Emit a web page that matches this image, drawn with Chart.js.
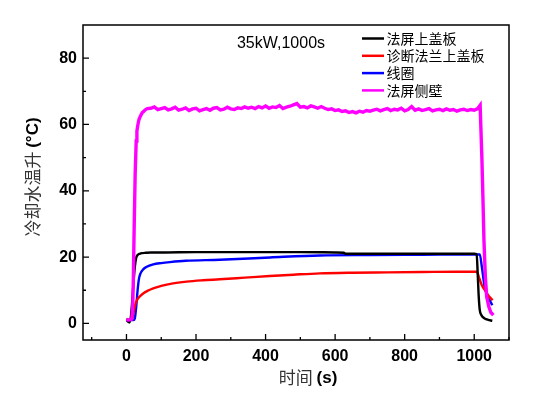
<!DOCTYPE html>
<html>
<head>
<meta charset="utf-8">
<script src="https://cdn.jsdelivr.net/npm/chart.js@4.4.1/dist/chart.umd.min.js"></script>
<style>
  html, body { margin: 0; padding: 0; background: #fff; }
</style>
</head>
<body>
<canvas id="temp-chart" width="549" height="399"></canvas>
<script>
// nombres de las series (leyenda)
const seriesNames = ['法屏上盖板', '诊断法兰上盖板', '线圈', '法屏侧壁'];
const seriesColors = ['#000000', '#ff0000', '#0000ff', '#ff00ff'];

const blackTime = [0, 5, 8, 12, 16, 20, 24, 28, 32, 38, 45, 55, 70, 100, 200, 300, 400, 500, 600, 625, 630, 700, 800, 900, 1000, 1007, 1010, 1013, 1016, 1020, 1025, 1030, 1040, 1052];
const blackTemp = [1.0, 0.5, 0.3, 1.5, 6, 12, 17, 19.8, 20.6, 21.0, 21.2, 21.3, 21.4, 21.4, 21.5, 21.5, 21.5, 21.5, 21.4, 21.3, 21.0, 21.0, 21.0, 21.0, 21.0, 20.9, 15, 8, 4, 2.6, 1.9, 1.5, 1.1, 0.8];

const redTime = [0, 10, 16, 20, 24, 28, 33, 40, 50, 60, 77, 100, 130, 173, 220, 268, 340, 412, 480, 556, 650, 750, 850, 950, 1007, 1015, 1022, 1031, 1040, 1053];
const redTemp = [1.3, 1.0, 1.2, 3, 5, 6.5, 7.5, 8.3, 9.2, 9.8, 10.6, 11.3, 12.0, 12.6, 13.0, 13.3, 13.8, 14.3, 14.7, 15.1, 15.3, 15.4, 15.5, 15.6, 15.6, 13.5, 11.5, 10, 8.5, 7];

const blueTime = [0, 10, 20, 24, 28, 32, 36, 40, 48, 57, 77, 100, 125, 170, 268, 413, 556, 700, 850, 1000, 1016, 1022, 1030, 1040, 1052];
const blueTemp = [1.3, 1.0, 1.0, 1.5, 5, 10, 13.5, 15, 16.3, 17, 17.8, 18.2, 18.5, 18.9, 19.2, 19.9, 20.5, 20.6, 20.7, 20.8, 20.8, 17, 11, 8, 5.5];

const pinkTime = [0, 5, 10, 15, 18, 20, 22, 25, 28, 30, 33, 36, 40, 45, 50, 55, 60,
  70, 80, 90, 100, 110, 120, 130, 140, 150, 160, 170, 180, 190, 200, 210, 220, 230, 240, 250, 260,
  270, 280, 290, 300, 310, 320, 330, 340, 350, 360, 370, 380, 390, 400, 410, 420, 430, 440, 450,
  460, 470, 480, 490, 500, 510, 520, 530, 540, 550, 560, 570, 580, 590, 600, 610, 620, 630, 640,
  650, 660, 670, 680, 690, 700, 710, 720, 730, 740, 750, 760, 770, 780, 790, 800, 810, 820, 830,
  840, 850, 860, 870, 880, 890, 900, 910, 920, 930, 940, 950, 960, 970, 980, 990, 1000, 1010, 1017,
  1022, 1025, 1028, 1032, 1036, 1042, 1048, 1055];
const pinkTemp = [1.2, 1.0, 1.1, 1.3, 5, 15, 28, 45, 55, 58, 60, 61.5, 62.5, 63.5, 64, 64.5, 64.8,
  64.9, 65.3, 64.5, 64.8, 65.1, 64.4, 64.7, 65.2, 64.3, 64.6, 65.0, 64.2, 64.7, 64.9, 64.1, 64.5, 64.8, 64.3, 64.9, 65.1,
  64.4, 64.6, 65.2, 64.7, 64.5, 65.0, 64.8, 65.3, 64.9, 65.2, 64.8, 65.4, 65.0, 65.6, 64.9, 65.3, 65.1, 65.7, 64.8,
  65.2, 65.5, 65.9, 66.3, 65.2, 65.4, 65.0, 65.6, 65.3, 64.9, 65.4, 64.9, 64.5, 64.7, 64.2, 64.4, 63.9, 64.1, 63.6,
  63.9, 63.5, 64.0, 63.7, 64.2, 64.0, 64.3, 64.6, 64.1, 64.5, 64.8, 64.2, 64.6, 64.4, 64.9, 64.1, 64.5, 65.4, 64.3,
  64.7, 64.2, 64.5, 64.8, 64.1, 64.4, 64.6, 64.2, 64.7, 64.3, 64.5, 64.0, 64.4, 64.6, 64.2, 64.5, 64.3, 64.8, 65.8,
  50, 38, 25, 14, 8, 5, 3.3, 2.5];

const xTickLabels = [0, 200, 400, 600, 800, 1000];
const xMinorTicks = [-100, 100, 300, 500, 700, 900, 1100];
const yTickLabels = [0, 20, 40, 60, 80];
const yMinorTicks = [10, 30, 50, 70];

const noteText = '35kW,1000s';
const xTitle = ['时间 ', '(s)'];
const yTitle = ['冷却水温升 ', '(°C)'];

const cjkFont = '"Noto Sans CJK SC", sans-serif';
const latinFont = '"Liberation Sans", Arial, sans-serif';

function toPoints(t, v) {
  return t.map((tt, i) => ({ x: tt, y: v[i] }));
}

function drawMixed(ctx, parts, cx, cy) {
  const fonts = ['17px ' + cjkFont, 'bold 17px ' + latinFont];
  let total = 0;
  parts.forEach((p, i) => { ctx.font = fonts[i]; total += ctx.measureText(p).width; });
  let x = cx - total / 2;
  parts.forEach((p, i) => {
    ctx.font = fonts[i];
    ctx.fillStyle = i === 0 ? '#333' : '#000';
    ctx.fillText(p, x, cy);
    x += ctx.measureText(p).width;
  });
}

// marco, ticks hacia adentro, leyenda y textos
const frame = {
  id: 'frame',
  afterDraw(chart) {
    const { ctx, chartArea: a, scales: { x, y } } = chart;
    ctx.save();
    ctx.strokeStyle = '#000';
    ctx.lineWidth = 1.5;
    ctx.strokeRect(a.left, a.top, a.right - a.left, a.bottom - a.top);

    ctx.lineWidth = 1.3;
    ctx.beginPath();
    xTickLabels.forEach((v) => { const px = x.getPixelForValue(v); ctx.moveTo(px, a.bottom); ctx.lineTo(px, a.bottom - 6); });
    xMinorTicks.forEach((v) => { const px = x.getPixelForValue(v); ctx.moveTo(px, a.bottom); ctx.lineTo(px, a.bottom - 3); });
    yTickLabels.forEach((v) => { const py = y.getPixelForValue(v); ctx.moveTo(a.left, py); ctx.lineTo(a.left + 6, py); });
    yMinorTicks.forEach((v) => { const py = y.getPixelForValue(v); ctx.moveTo(a.left, py); ctx.lineTo(a.left + 3, py); });
    ctx.stroke();

    // leyenda
    ctx.textBaseline = 'middle';
    ctx.textAlign = 'left';
    chart.data.datasets.forEach((ds, i) => {
      const ly = 38.5 + i * 17.3;
      ctx.strokeStyle = ds.borderColor;
      ctx.lineWidth = 2.5;
      ctx.beginPath();
      ctx.moveTo(362, ly);
      ctx.lineTo(384, ly);
      ctx.stroke();
      ctx.fillStyle = '#000';
      ctx.font = '14px ' + cjkFont;
      ctx.fillText(ds.label, 386.5, ly);
    });

    ctx.font = '16px ' + latinFont;
    ctx.textAlign = 'center';
    ctx.fillStyle = '#000';
    ctx.fillText(noteText, 281, 44);

    ctx.textAlign = 'left';
    drawMixed(ctx, xTitle, 308, 378);
    ctx.translate(33, 177);
    ctx.rotate(-Math.PI / 2);
    drawMixed(ctx, yTitle, 0, 0);
    ctx.restore();
  },
};

const lineSets = [
  { t: blackTime, v: blackTemp, order: 1 },
  { t: redTime, v: redTemp, order: 2 },
  { t: blueTime, v: blueTemp, order: 3 },
  { t: pinkTime, v: pinkTemp, order: 0 },
];

new Chart(document.getElementById('temp-chart'), {
  type: 'line',
  plugins: [frame],
  data: {
    datasets: lineSets.map((s, i) => ({
      label: seriesNames[i],
      data: toPoints(s.t, s.v),
      borderColor: seriesColors[i],
      backgroundColor: seriesColors[i],
      borderWidth: i === 3 ? 3.4 : 2.4,
      pointRadius: 0,
      cubicInterpolationMode: i === 3 ? 'default' : 'monotone',
      tension: 0,
      order: s.order,
    })),
  },
  options: {
    responsive: false,
    animation: false,
    events: [],
    layout: {
      padding: { top: 25, right: 40, left: 0, bottom: 0 },
    },
    plugins: {
      legend: { display: false },
      tooltip: { enabled: false },
    },
    scales: {
      x: {
        type: 'linear',
        min: -125,
        max: 1100,
        grid: { display: false, drawTicks: false },
        border: { display: false },
        afterFit: (scale) => { scale.height = 59; },
        afterBuildTicks: (scale) => { scale.ticks = xTickLabels.map((v) => ({ value: v })); },
        ticks: {
          padding: 7,
          color: '#000',
          font: { family: latinFont, size: 16, weight: 'bold' },
          callback: (v) => String(v),
        },
      },
      y: {
        min: -5,
        max: 90,
        grid: { display: false, drawTicks: false },
        border: { display: false },
        afterFit: (scale) => { scale.width = 83; },
        afterBuildTicks: (scale) => { scale.ticks = yTickLabels.map((v) => ({ value: v })); },
        ticks: {
          padding: 6,
          color: '#000',
          font: { family: latinFont, size: 16, weight: 'bold' },
          callback: (v) => String(v),
        },
      },
    },
  },
});
</script>
</body>
</html>
